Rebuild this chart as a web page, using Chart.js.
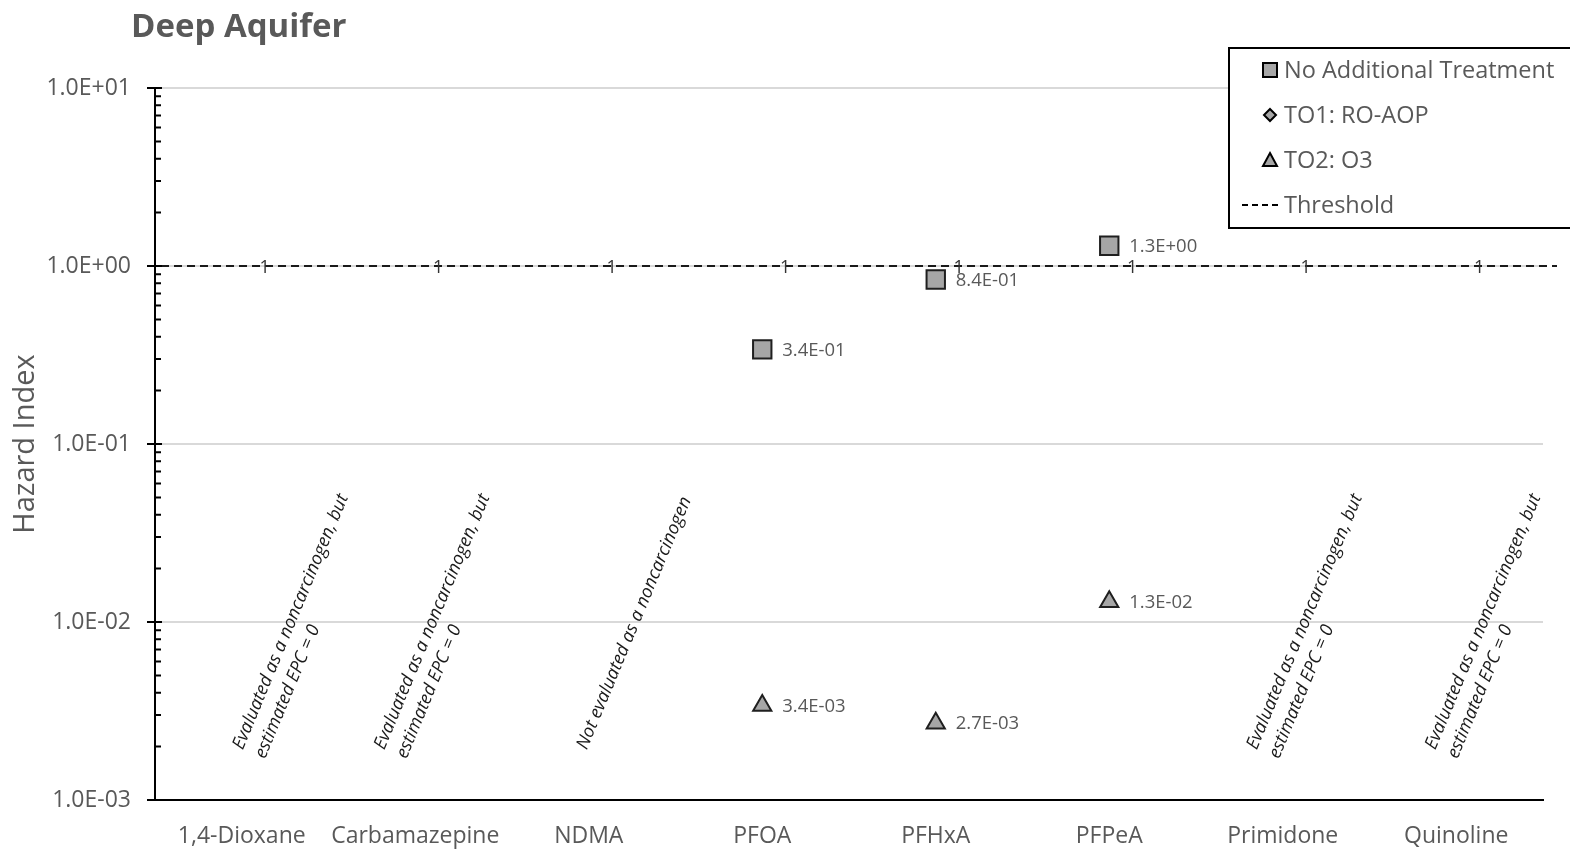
<!DOCTYPE html>
<html>
<head>
<meta charset="utf-8">
<script src="https://cdn.jsdelivr.net/npm/chart.js@4.4.1/dist/chart.umd.min.js"></script>
<style>
  html, body { margin: 0; padding: 0; background: #fff; }
  #wrap { width: 1570px; height: 851px; position: relative; }
</style>
</head>
<body>
<div id="wrap"><canvas id="chart" width="1570" height="851"></canvas></div>
<script>
// ---- data ----
const categories = ['1,4-Dioxane', 'Carbamazepine', 'NDMA', 'PFOA', 'PFHxA', 'PFPeA', 'Primidone', 'Quinoline'];
const noTreatment = [null, null, null, 0.34, 0.84, 1.3, null, null];
const to1RoAop = [null, null, null, null, null, null, null, null];
const to2O3 = [null, null, null, 0.0034, 0.0027, 0.013, null, null];
const threshold = [1, 1, 1, 1, 1, 1, 1, 1];
const yTicks = [0.001, 0.01, 0.1, 1, 10];

const noteCats = ['1,4-Dioxane', 'Carbamazepine', 'NDMA', 'Primidone', 'Quinoline'];
const noteTexts = [
    ['Evaluated as a noncarcinogen, but', 'estimated EPC = 0'],
    ['Evaluated as a noncarcinogen, but', 'estimated EPC = 0'],
    ['Not evaluated as a noncarcinogen'],
    ['Evaluated as a noncarcinogen, but', 'estimated EPC = 0'],
    ['Evaluated as a noncarcinogen, but', 'estimated EPC = 0']
];

// ---- layout / style ----
const FONT = "'Open Sans', sans-serif";
const GREY_TEXT = '#595959';
const noteDx = [1, -31, -2, -26, -21];    // horizontal nudge of each note from its category
const NOTE_ANCHOR = 0.0019;               // note baseline sits at this hazard index
const NOTE_ANGLE = -67.4 * Math.PI / 180;

function sci(v) {
    let e = Math.floor(Math.log10(v) + 1e-9);
    let m = v / Math.pow(10, e);
    if (m.toFixed(1) === '10.0') { m = 1; e += 1; }
    return m.toFixed(1) + 'E' + (e < 0 ? '-' : '+') + String(Math.abs(e)).padStart(2, '0');
}

// extra drawing: title, threshold line, y ticks, labels, notes, legend
const extras = {
    id: 'extras',
    beforeDatasetsDraw(chart) {
        const ctx = chart.ctx;
        const area = chart.chartArea;
        const y = chart.scales.y;
        const ty = chart.getDatasetMeta(3).data[0].y;
        ctx.save();
        ctx.strokeStyle = '#1a1a1a';
        ctx.lineWidth = 2;
        ctx.setLineDash([8, 5]);
        ctx.beginPath();
        ctx.moveTo(area.left - 7, ty);
        ctx.lineTo(area.right + 14, ty);
        ctx.stroke();
        ctx.restore();

        // y axis ticks (major cross the axis, minor inside)
        ctx.save();
        ctx.strokeStyle = '#000';
        ctx.lineWidth = 2;
        ctx.beginPath();
        yTicks.forEach(v => {
            const py = y.getPixelForValue(v);
            ctx.moveTo(area.left - 8, py);
            ctx.lineTo(area.left + 7, py);
        });
        for (let i = 0; i < yTicks.length - 1; i++) {
            for (let k = 2; k <= 9; k++) {
                const py = y.getPixelForValue(yTicks[i] * k);
                ctx.moveTo(area.left, py);
                ctx.lineTo(area.left + 6, py);
            }
        }
        ctx.stroke();
        ctx.restore();
    },
    afterDatasetsDraw(chart) {
        const ctx = chart.ctx;
        const x = chart.scales.x;
        const y = chart.scales.y;
        ctx.save();

        // title
        ctx.fillStyle = GREY_TEXT;
        ctx.font = 'bold 33px ' + FONT;
        ctx.textBaseline = 'alphabetic';
        ctx.textAlign = 'left';
        ctx.fillText('Deep Aquifer', 131, 37);

        // threshold labels
        ctx.font = '18px ' + FONT;
        ctx.fillStyle = '#333';
        ctx.textAlign = 'center';
        ctx.textBaseline = 'middle';
        chart.getDatasetMeta(3).data.forEach(p => {
            ctx.fillText('1', p.x + 23, p.y + 2);
        });

        // value labels
        ctx.font = '18.5px ' + FONT;
        ctx.fillStyle = GREY_TEXT;
        ctx.textAlign = 'left';
        [0, 2].forEach(di => {
            const ds = chart.data.datasets[di];
            chart.getDatasetMeta(di).data.forEach((p, i) => {
                if (ds.data[i] == null) return;
                ctx.fillText(sci(ds.data[i]), p.x + 20, p.y + 1);
            });
        });

        // rotated notes
        ctx.font = 'italic 18px ' + FONT;
        ctx.fillStyle = '#1a1a1a';
        ctx.textBaseline = 'alphabetic';
        noteCats.forEach((c, i) => {
            const px = x.getPixelForValue(categories.indexOf(c)) + noteDx[i];
            const py = y.getPixelForValue(NOTE_ANCHOR);
            ctx.save();
            ctx.translate(px, py);
            ctx.rotate(NOTE_ANGLE);
            noteTexts[i].forEach((line, j) => ctx.fillText(line, 0, j * 24));
            ctx.restore();
        });

        // legend
        const lx = 1229, ly = 48;
        ctx.fillStyle = '#fff';
        ctx.fillRect(lx, ly, 345, 180);
        ctx.strokeStyle = '#000';
        ctx.lineWidth = 2;
        ctx.strokeRect(lx, ly, 345, 180);
        ctx.font = '23.5px ' + FONT;
        ctx.textBaseline = 'middle';
        chart.data.datasets.forEach((ds, i) => {
            const ry = ly + 22 + i * 45;
            const mx = 1270;
            ctx.save();
            ctx.fillStyle = ds.backgroundColor;
            ctx.strokeStyle = '#000';
            ctx.lineWidth = 2;
            ctx.beginPath();
            if (ds.pointStyle === 'rect') {
                ctx.rect(mx - 7, ry - 7, 14, 14);
            } else if (ds.pointStyle === 'rectRot') {
                ctx.moveTo(mx, ry - 6); ctx.lineTo(mx + 6, ry); ctx.lineTo(mx, ry + 6); ctx.lineTo(mx - 6, ry); ctx.closePath();
            } else if (ds.pointStyle === 'triangle') {
                ctx.moveTo(mx, ry - 7); ctx.lineTo(mx + 7, ry + 6); ctx.lineTo(mx - 7, ry + 6); ctx.closePath();
            }
            if (ds.pointStyle) { ctx.fill(); ctx.stroke(); }
            else {
                ctx.setLineDash([6, 4]);
                ctx.moveTo(mx - 28, ry); ctx.lineTo(mx + 10, ry); ctx.stroke();
            }
            ctx.restore();
            ctx.fillStyle = GREY_TEXT;
            ctx.fillText(ds.label, 1284, ry + 1);
        });
        ctx.restore();
    }
};

const markerStyle = {
    showLine: false,
    backgroundColor: '#a6a6a6',
    borderColor: '#1f1f1f',
    borderWidth: 2,
    pointBorderWidth: 2
};

new Chart(document.getElementById('chart'), {
    type: 'line',
    data: {
        labels: categories,
        datasets: [
            Object.assign({ label: 'No Additional Treatment', data: noTreatment, pointStyle: 'rect', pointRadius: 13 }, markerStyle),
            Object.assign({ label: 'TO1: RO-AOP', data: to1RoAop, pointStyle: 'rectRot', pointRadius: 9 }, markerStyle),
            Object.assign({ label: 'TO2: O3', data: to2O3, pointStyle: 'triangle', pointRadius: 10.5 }, markerStyle),
            { label: 'Threshold', data: threshold, showLine: false, pointRadius: 0, pointStyle: false, borderColor: '#000', backgroundColor: '#000' }
        ]
    },
    options: {
        responsive: false,
        devicePixelRatio: 1,
        animation: false,
        layout: { padding: { top: 88, right: 27, left: 0, bottom: 0 } },
        plugins: { legend: { display: false }, tooltip: { enabled: false } },
        scales: {
            x: {
                offset: true,
                grid: { display: false },
                border: { display: true, color: '#000', width: 2 },
                ticks: { color: GREY_TEXT, font: { family: FONT, size: 23 }, padding: 15, maxRotation: 0 },
                afterFit(s) { s.height = 51; }
            },
            y: {
                type: 'logarithmic',
                min: 0.001,
                max: 10,
                afterBuildTicks(s) { s.ticks = yTicks.map(v => ({ value: v, major: true })); },
                grid: { color: '#d9d9d9', lineWidth: 2, drawTicks: false },
                border: { display: true, color: '#000', width: 2 },
                ticks: { color: GREY_TEXT, font: { family: FONT, size: 23 }, padding: 24, callback: v => sci(v) },
                title: { display: true, text: 'Hazard Index', color: GREY_TEXT, font: { family: FONT, size: 29 }, padding: { top: 8, bottom: 0 } },
                afterFit(s) { s.width = 155; }
            }
        }
    },
    plugins: [extras]
});
</script>
</body>
</html>
